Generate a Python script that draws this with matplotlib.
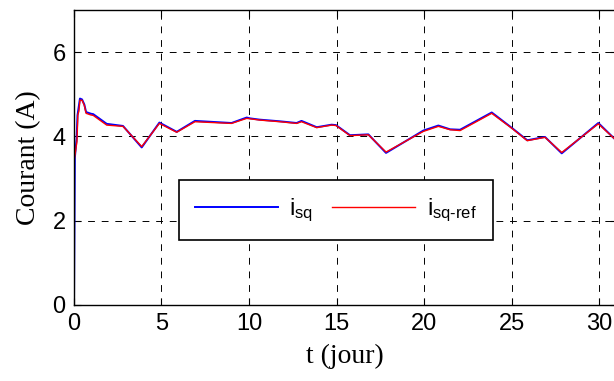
"""Courant i_sq et i_sq-ref sur 30 jours"""

import matplotlib
matplotlib.use("Agg")
import matplotlib.pyplot as plt

# Reference current
t_ref = [0.0, 0.0, 0.02, 0.17, 0.22, 0.28, 0.34, 0.46, 0.59, 0.69, 0.97,
         1.1, 1.87, 2.8, 3.87, 4.88, 5.87, 6.91, 9.0, 9.87, 10.06, 10.6,
         11.77, 12.72, 13.0, 13.87, 14.72, 14.97, 15.77, 16.82, 17.83,
         19.96, 20.82, 21.49, 22.06, 23.87, 25.0, 25.9, 26.91, 27.87,
         29.96, 31.0]
i_ref = [0.0, 5.22, 3.46, 3.88, 4.51, 4.6, 4.86, 4.86, 4.74, 4.55, 4.51,
         4.5, 4.27, 4.24, 3.76, 4.31, 4.1, 4.35, 4.31, 4.43, 4.42, 4.39,
         4.35, 4.31, 4.35, 4.21, 4.27, 4.26, 4.02, 4.04, 3.63,
         4.12, 4.24, 4.16, 4.14, 4.55, 4.2, 3.9, 3.98, 3.62,
         4.3, 3.9]

# Measured current
t_sq = [0.0, 0.05, 0.15, 0.2, 0.34, 0.46, 0.59, 0.69, 0.97,
        1.1, 1.87, 2.8, 3.87, 4.88, 5.87, 6.91, 9.0, 9.87, 10.06, 10.6,
        11.77, 12.72, 13.0, 13.87, 14.72, 14.97, 15.77, 16.82, 17.83,
        19.96, 20.82, 21.49, 22.06, 23.87, 25.0, 25.9, 26.91, 27.87,
        29.96, 31.0]
i_sq = [0.0, 3.5, 3.95, 4.5, 4.9, 4.88, 4.76, 4.58, 4.54,
        4.53, 4.3, 4.25, 3.74, 4.33, 4.11, 4.37, 4.32, 4.45, 4.43, 4.4,
        4.36, 4.32, 4.37, 4.22, 4.28, 4.27, 4.03, 4.05, 3.61,
        4.14, 4.26, 4.17, 4.16, 4.57, 4.21, 3.91, 3.99, 3.6,
        4.32, 3.9]

x_ticks = [0, 5, 10, 15, 20, 25, 30]
y_ticks = [0, 2, 4, 6]

plt.rcParams['mathtext.fontset'] = 'custom'
plt.rcParams['mathtext.rm'] = 'Liberation Sans'
plt.rcParams['mathtext.it'] = 'Liberation Sans'

fig = plt.figure(figsize=(6.14, 3.81), dpi=100)
ax = fig.add_axes([0.1205, 0.1995, 0.8836, 0.774])

ax.plot(t_sq, i_sq, color='#0000ff', lw=1.4, label=r'$\mathrm{i}_{\mathrm{sq}}$')
ax.plot(t_ref, i_ref, color='#ff0000', lw=1.0,
        label=r'$\mathrm{i}_{\text{sq-ref}}$')

ax.set_xlim(0, 31)
ax.set_ylim(0, 7)
ax.set_xticks(x_ticks)
ax.set_yticks(y_ticks)
ax.grid(True, color='black', linestyle=(0, (7, 7)), lw=0.7)
ax.tick_params(direction='in', top=True, right=True, length=5,
               labelsize=17, pad=6)
for lab in ax.get_xticklabels() + ax.get_yticklabels():
    lab.set_family('Liberation Sans')
for sp in ax.spines.values():
    sp.set_linewidth(1.0)

ax.set_xlabel('t (jour)', family='Liberation Serif', fontsize=20, labelpad=6)
ax.set_ylabel('Courant (A)', family='Liberation Serif', fontsize=20,
              labelpad=8)

leg = ax.legend(ncol=2, loc='upper left', bbox_to_anchor=(0.1935, 0.4237),
                borderaxespad=0, fancybox=False, edgecolor='black',
                fontsize=17, handlelength=3.5, handletextpad=0.5,
                columnspacing=0.8, borderpad=0.68, framealpha=1)
leg.get_frame().set_linewidth(1.2)

fig.savefig('out.png', dpi=100)
